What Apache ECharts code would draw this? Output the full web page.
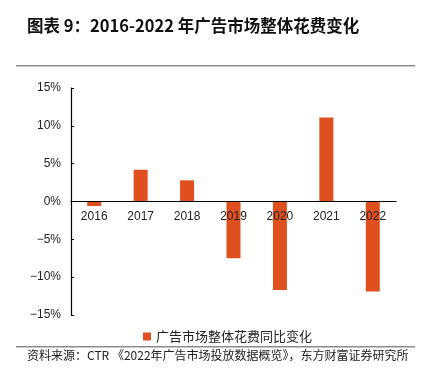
<!DOCTYPE html>
<html><head><meta charset="utf-8">
<script src="https://cdn.jsdelivr.net/npm/echarts@6/dist/echarts.min.js"></script>
<style>html,body{margin:0;padding:0;background:#fff}#c{width:427px;height:373px}</style>
</head><body><div id="c"></div>
<script>
var categories = ['2016','2017','2018','2019','2020','2021','2022'];
var values = [-0.6, 4.2, 2.8, -7.5, -11.7, 11.1, -11.9];
var seriesName = '广告市场整体花费同比变化';
var titleText = '图表 9：2016-2022 年广告市场整体花费变化';
var sourceText = '资料来源：CTR 《2022年广告市场投放数据概览》，东方财富证券研究所';

var chart = echarts.init(document.getElementById('c'));
chart.setOption({
  animation: false,
  textStyle: {fontFamily: 'Liberation Sans, Arial, sans-serif'},
  graphic: [
    {type:'text', left:27, top:17, style:{text:titleText, font:'bold 16.5px "Noto Sans CJK SC"', fill:'#111'}},
    {type:'rect', shape:{x:16,y:65,width:399,height:1.5}, style:{fill:'#8c8c8c'}},
    {type:'rect', shape:{x:16,y:346,width:399,height:1.5}, style:{fill:'#8c8c8c'}},
    {type:'text', left:27, top:349, style:{text:sourceText, font:'12px "Noto Sans CJK SC"', fill:'#222'}}
  ],
  grid: {left:71, right:31, top:88, bottom:58, containLabel:false},
  legend: {
    left:138, top:325, itemWidth:8, itemHeight:8, icon:'rect',
    textStyle:{fontSize:13, color:'#222', fontFamily:'Noto Sans CJK SC'},
    data:[seriesName]
  },
  xAxis: {
    type:'category', data:categories, offset:-113.5, z:5,
    axisLine:{onZero:false, lineStyle:{color:'#000', width:1.2}},
    axisTick:{show:false},
    axisLabel:{color:'#222', fontSize:12, margin:9}
  },
  yAxis: {
    type:'value', min:-15, max:15, interval:5, z:5,
    axisLine:{show:true, lineStyle:{color:'#000', width:1.2}},
    axisTick:{show:true, inside:true, length:3, lineStyle:{color:'#000'}},
    splitLine:{show:false},
    axisLabel:{color:'#222', fontSize:12, margin:10, formatter:function(v){return (v<0?'\u2212'+(-v):v)+'%';}}
  },
  series: [{
    name:seriesName, type:'bar', data:values, barWidth:14, z:2,
    itemStyle:{color:'#E0501E'}
  }]
});
</script></body></html>
